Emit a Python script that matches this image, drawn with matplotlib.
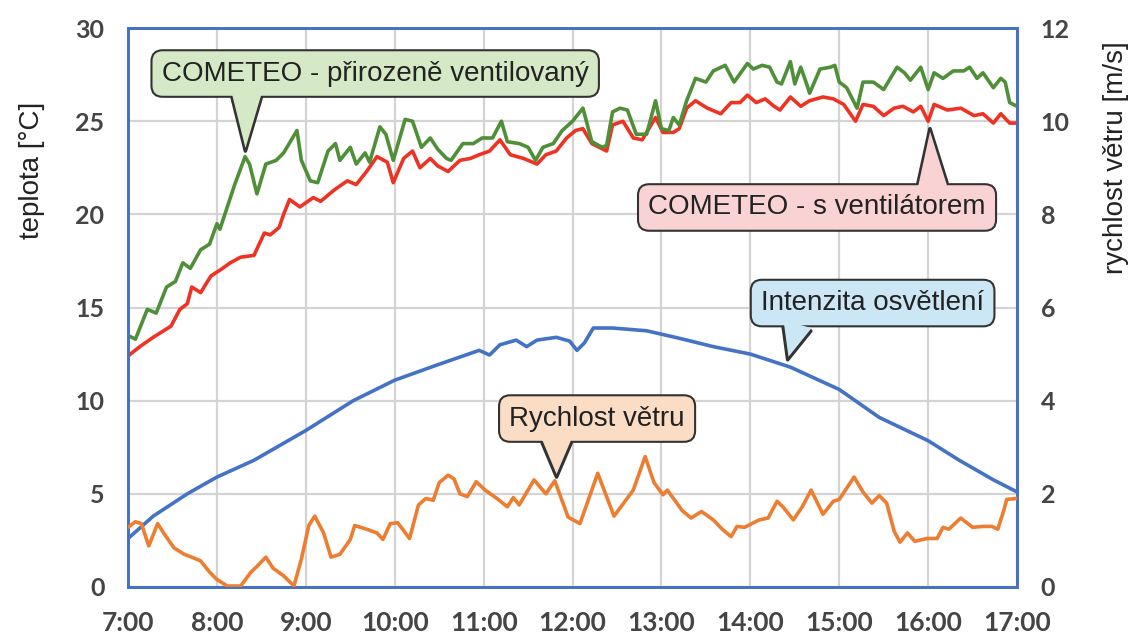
import numpy as np
import matplotlib
matplotlib.use("Agg")
import matplotlib.pyplot as plt
from matplotlib.path import Path
from matplotlib.patches import PathPatch
from matplotlib.transforms import IdentityTransform

# data (time of day, left axis in degC, right axis in m/s)
green_t = ["7:00", "7:05", "7:13", "7:19", "7:26", "7:32", "7:37", "7:42", "7:49", "7:55",
           "8:00", "8:02", "8:07", "8:12", "8:19", "8:22", "8:27", "8:33", "8:40", "8:45",
           "8:54", "8:57", "9:03", "9:08", "9:15", "9:20", "9:23", "9:30", "9:34", "9:40",
           "9:43", "9:50", "9:54", "9:59", "10:07", "10:12", "10:18", "10:24", "10:29", "10:35",
           "10:38", "10:46", "10:53", "10:59", "11:06", "11:12", "11:16", "11:24", "11:30", "11:35",
           "11:40", "11:47", "11:53", "12:00", "12:07", "12:13", "12:20", "12:23", "12:27", "12:32",
           "12:37", "12:43", "12:50", "12:56", "13:00", "13:05", "13:08", "13:12", "13:17", "13:23",
           "13:30", "13:35", "13:43", "13:49", "13:58", "14:02", "14:08", "14:13", "14:18", "14:21",
           "14:27", "14:30", "14:34", "14:38", "14:40", "14:47", "14:54", "14:57", "15:00", "15:05",
           "15:12", "15:16", "15:23", "15:30", "15:39", "15:44", "15:48", "15:55", "16:00", "16:04",
           "16:10", "16:17", "16:24", "16:28", "16:33", "16:37", "16:44", "16:49", "16:52", "16:55",
           "17:00"]
green_v = [13.5, 13.3, 14.9, 14.7, 16.1, 16.4, 17.4, 17.1, 18.1, 18.4,
           19.5, 19.2, 20.4, 21.6, 23.1, 22.7, 21.1, 22.7, 22.9, 23.3,
           24.5, 22.9, 21.8, 21.7, 23.4, 23.8, 22.9, 23.6, 22.7, 23.3,
           22.8, 24.7, 24.3, 22.9, 25.1, 25.0, 23.6, 24.1, 23.5, 23.0,
           22.9, 23.8, 23.8, 24.1, 24.1, 25.0, 23.9, 23.8, 23.6, 22.9,
           23.6, 23.8, 24.5, 25.0, 25.7, 23.9, 23.6, 23.7, 25.5, 25.7,
           25.6, 24.3, 24.3, 26.1, 24.6, 24.5, 25.2, 24.8, 26.1, 27.3,
           27.1, 27.7, 28.0, 27.1, 28.1, 27.8, 28.0, 27.9, 27.1, 27.0,
           28.2, 27.0, 27.9, 27.0, 26.5, 27.8, 27.9, 28.0, 27.1, 26.8,
           25.7, 27.1, 27.1, 26.7, 27.9, 27.6, 27.2, 27.9, 26.7, 27.6,
           27.3, 27.7, 27.7, 27.9, 27.3, 27.6, 26.8, 27.3, 27.1, 26.0,
           25.8]

red_t = ["7:00", "7:08", "7:17", "7:29", "7:35", "7:40", "7:43", "7:49", "7:56", "8:02",
         "8:09", "8:16", "8:25", "8:32", "8:36", "8:42", "8:45", "8:49", "8:56", "9:05",
         "9:10", "9:19", "9:28", "9:34", "9:41", "9:48", "9:55", "9:59", "10:06", "10:12",
         "10:17", "10:24", "10:29", "10:36", "10:44", "10:51", "10:57", "11:04", "11:11", "11:18",
         "11:27", "11:36", "11:42", "11:49", "11:56", "12:02", "12:07", "12:13", "12:23", "12:27",
         "12:34", "12:41", "12:47", "12:56", "13:01", "13:08", "13:12", "13:17", "13:23", "13:31",
         "13:40", "13:47", "13:53", "13:58", "14:04", "14:10", "14:16", "14:20", "14:27", "14:34",
         "14:40", "14:49", "14:56", "15:03", "15:11", "15:16", "15:23", "15:30", "15:37", "15:43",
         "15:50", "15:55", "16:00", "16:04", "16:13", "16:22", "16:31", "16:37", "16:44", "16:49",
         "16:55", "17:00"]
red_v = [12.4, 12.9, 13.4, 14.0, 14.9, 15.2, 16.1, 15.8, 16.7, 17.0,
         17.4, 17.7, 17.8, 19.0, 18.9, 19.3, 20.0, 20.8, 20.4, 20.9,
         20.7, 21.3, 21.8, 21.6, 22.3, 23.1, 22.8, 21.7, 23.0, 23.4,
         22.5, 23.0, 22.6, 22.3, 22.9, 23.0, 23.2, 23.4, 24.0, 23.2,
         23.0, 22.7, 23.2, 23.4, 24.1, 24.5, 24.6, 23.8, 23.4, 24.8,
         25.0, 24.1, 24.0, 25.2, 24.4, 24.4, 24.6, 25.7, 26.1, 25.7,
         25.4, 26.0, 26.0, 26.4, 26.0, 26.2, 25.8, 25.6, 26.3, 25.8,
         26.1, 26.3, 26.2, 25.9, 25.0, 25.9, 25.8, 25.3, 25.7, 25.8,
         25.5, 25.8, 25.0, 25.9, 25.6, 25.7, 25.3, 25.4, 24.9, 25.4,
         24.9, 24.9]

light_t = ["7:00", "7:17", "7:40", "8:00", "8:25", "9:00", "9:32", "10:00", "10:28", "10:57",
           "11:04", "11:11", "11:22", "11:29", "11:36", "11:49", "11:58", "12:03", "12:08", "12:14",
           "12:27", "12:50", "13:12", "13:35", "14:00", "14:27", "15:00", "15:27", "16:00", "16:21",
           "16:44", "17:00"]
light_v = [2.6, 3.8, 5.0, 5.9, 6.8, 8.4, 10.0, 11.1, 11.9, 12.7,
           12.45, 13.0, 13.25, 12.9, 13.25, 13.4, 13.2, 12.7, 13.1, 13.9,
           13.9, 13.75, 13.35, 12.9, 12.5, 11.8, 10.6, 9.1, 7.85, 6.8,
           5.75, 5.1]

wind_t = ["7:00", "7:05", "7:09", "7:14", "7:20", "7:24", "7:31", "7:38", "7:43", "7:49",
          "7:55", "8:00", "8:07", "8:16", "8:23", "8:27", "8:33", "8:38", "8:45", "8:52",
          "8:57", "9:02", "9:06", "9:12", "9:17", "9:23", "9:30", "9:33", "9:41", "9:48",
          "9:52", "9:57", "10:02", "10:10", "10:16", "10:21", "10:26", "10:30", "10:36", "10:40",
          "10:44", "10:49", "10:55", "11:01", "11:09", "11:16", "11:20", "11:24", "11:34", "11:42",
          "11:48", "11:57", "12:05", "12:17", "12:28", "12:41", "12:49", "12:55", "13:01", "13:04",
          "13:14", "13:20", "13:27", "13:35", "13:41", "13:47", "13:51", "13:56", "14:06", "14:12",
          "14:18", "14:22", "14:29", "14:35", "14:41", "14:49", "14:56", "15:00", "15:10", "15:16",
          "15:22", "15:27", "15:32", "15:37", "15:41", "15:46", "15:51", "15:59", "16:06", "16:10",
          "16:14", "16:22", "16:30", "16:37", "16:43", "16:47", "16:51", "16:53", "17:00"]
wind_v = [1.28, 1.40, 1.36, 0.88, 1.36, 1.16, 0.84, 0.70, 0.64, 0.56,
          0.32, 0.16, 0.02, 0.02, 0.32, 0.44, 0.64, 0.40, 0.24, 0.02,
          0.60, 1.32, 1.52, 1.16, 0.64, 0.70, 1.02, 1.32, 1.24, 1.16,
          1.02, 1.36, 1.38, 1.04, 1.76, 1.90, 1.86, 2.24, 2.40, 2.32,
          2.00, 1.94, 2.26, 2.08, 1.90, 1.72, 1.92, 1.76, 2.30, 2.00,
          2.28, 1.50, 1.36, 2.44, 1.52, 2.08, 2.80, 2.24, 1.98, 2.08,
          1.64, 1.48, 1.62, 1.44, 1.24, 1.08, 1.30, 1.28, 1.44, 1.48,
          1.84, 1.72, 1.44, 1.72, 2.08, 1.56, 1.84, 1.88, 2.36, 2.04,
          1.80, 1.96, 1.80, 1.20, 0.96, 1.16, 0.98, 1.04, 1.04, 1.28,
          1.24, 1.48, 1.28, 1.30, 1.30, 1.24, 1.64, 1.88, 1.90]

hour_labels = ["7:00", "8:00", "9:00", "10:00", "11:00", "12:00",
               "13:00", "14:00", "15:00", "16:00", "17:00"]


def hours(times):
    out = []
    for t in times:
        h, m = t.split(":")
        out.append(int(h) + int(m) / 60)
    return out


plt.rcParams['font.family'] = ['Liberation Sans', 'DejaVu Sans']

c_green = "#4e8f38"
c_red = "#ee3224"
c_blue = "#4472c4"
c_orange = "#ed7d31"
c_tick = "#454545"

fig = plt.figure(figsize=(11.35, 6.38), dpi=100)
ax = fig.add_axes([0.1128, 0.08, 0.7833, 0.876])
ax2 = ax.twinx()

ax.plot(hours(light_t), light_v, color=c_blue, lw=2.6, zorder=3)
ax.plot(hours(red_t), red_v, color=c_red, lw=2.6, zorder=4)
ax.plot(hours(green_t), green_v, color=c_green, lw=2.6, zorder=5)
ax2.plot(hours(wind_t), wind_v, color=c_orange, lw=2.6, zorder=3)

ax.set_xlim(7, 17)
ax.set_ylim(0, 30)
ax2.set_ylim(0, 12)
ax.set_xticks(hours(hour_labels))
ax.set_xticklabels(hour_labels)
ax.set_yticks(range(0, 31, 5))
ax2.set_yticks(range(0, 13, 2))

ax.grid(True, color="#d4d4d4", lw=1.6)
ax.set_axisbelow(True)

for a in (ax, ax2):
    for s in a.spines.values():
        s.set_color(c_blue)
        s.set_linewidth(2)
    a.tick_params(length=0, pad=17, labelsize=18, labelcolor=c_tick)
ax.tick_params(axis="x", pad=17, labelsize=19)
for a in (ax, ax2):
    for lbl in a.get_xticklabels() + a.get_yticklabels():
        lbl.set_fontfamily("Lato")
        lbl.set_fontweight("bold")

fig.text(32 / 1135, 1 - 170 / 638, "teplota [°C]", rotation=90,
         ha="center", va="center", fontsize=20, color="#222222")
fig.text(1116 / 1135, 1 - 158 / 638, "rychlost větru [m/s]", rotation=90,
         ha="center", va="center", fontsize=20, color="#222222")

# callouts: (text, tip on curve, box centre, relative tail start, fill)
callouts = [
    ("COMETEO - přirozeně ventilovaný", (8.32, 23.4), (9.78, 27.56), (0.2, 0.5), "#d6e9c6"),
    ("COMETEO - s ventilátorem", (16.02, 24.6), (14.75, 20.37), (0.845, 0.5), "#f9d3d3"),
    ("Intenzita osvětlení", (14.42, 12.2), (15.375, 15.24), (0.19, 0.5), "#cbe6f4"),
    ("Rychlost větru", (11.82, 5.9), (12.276, 9.04), (0.27, 0.5), "#fbdcc4"),
]
notes = []
for text, tip, centre, rel, fill in callouts:
    ann = ax2.annotate(text, xy=tip, xycoords=ax.transData,
                       xytext=centre, textcoords=ax.transData,
                       ha="center", va="center", fontsize=20, color="#222222", zorder=10,
                       bbox=dict(boxstyle="round,pad=0.37,rounding_size=0.4",
                                 fc=fill, ec="#333333", lw=1.5),
                       arrowprops=dict(arrowstyle="wedge,tail_width=1.05,shrink_factor=0.5",
                                       fc=fill, ec="#333333", lw=2.6, relpos=rel,
                                       shrinkA=0, shrinkB=0))
    notes.append((ann, tip, fill))

# cover the box border where the tail joins it, so the bubble reads as one shape
fig.canvas.draw()
for ann, tip, fill in notes:
    path, _ = ann.arrow_patch._get_path_in_displaycoord()
    if isinstance(path, list):
        path = path[0]
    verts = np.array(path.vertices, dtype=float)
    tip_px = ax.transData.transform(tip)
    base = verts[:-1].mean(axis=0)
    d = base - tip_px
    d = d / np.hypot(*d)
    cover = PathPatch(Path(verts + 3.0 * d, path.codes), transform=IdentityTransform(),
                      fc=fill, ec="none", lw=0, zorder=20)
    fig.add_artist(cover)

fig.savefig("out.png", dpi=100, facecolor="white")
